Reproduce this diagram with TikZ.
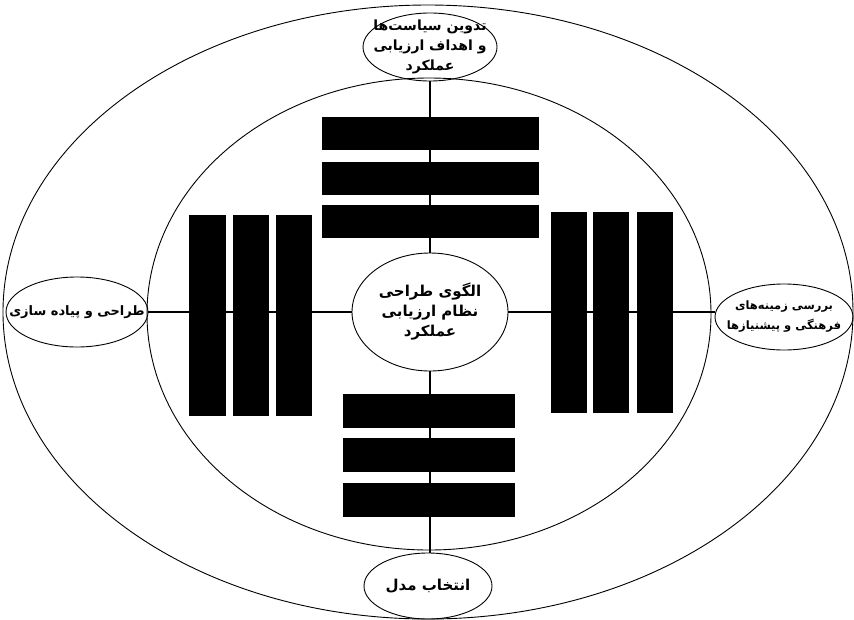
\documentclass[tikz,border=0pt]{standalone}
\usepackage{fontspec}
\usetikzlibrary{shapes.geometric}
\TeXXeTstate=1
\newfontfamily\arabicfont[Script=Arabic]{DejaVu Sans}
\newcommand{\fa}[1]{\beginR #1\endR}

\begin{document}
\begin{tikzpicture}[x=1pt,y=-1pt,
  ring/.style={ellipse,draw,line width=.9pt,inner sep=0pt},
  bar/.style={fill=black,draw=black,inner sep=0pt},
  fatext/.style={font=\arabicfont\bfseries\fontsize{#1}{20}\selectfont,align=center,inner sep=0pt},
  fatext/.default=13,
  link/.style={line width=1.2pt}]
\useasboundingbox (0,0) rectangle (854,619);
\draw[line width=.9pt] (428,312) ellipse [x radius=425,y radius=307];
\draw[line width=.9pt] (429,314) ellipse [x radius=282,y radius=236];

\node[ring,minimum width=156pt,minimum height=118pt] (core) at (430,312) {};
\node[ring,minimum width=134pt,minimum height=68pt] (policy) at (430,47) {};
\node[ring,minimum width=128pt,minimum height=66pt] (model) at (428,586) {};
\node[ring,minimum width=142pt,minimum height=70pt] (design) at (77,312) {};
\node[ring,minimum width=138pt,minimum height=66pt] (context) at (784,317) {};

\draw[link] (policy.south) -- (core.north);
\draw[link] (core.south) -- (core.south |- model.north);
\draw[link] (design.east) -- (core.west);
\draw[link] (core.east) -- (core.east -| context.west);

\node[bar,minimum width=216pt,minimum height=32pt] (tb1) at (430,133) {};
\node[bar,minimum width=216pt,minimum height=32pt] (tb2) at (430,178.5) {};
\node[bar,minimum width=216pt,minimum height=32pt] (tb3) at (430,221.5) {};
\node[bar,minimum width=171pt,minimum height=33pt] (bb1) at (428.5,410.5) {};
\node[bar,minimum width=171pt,minimum height=33pt] (bb2) at (428.5,454.5) {};
\node[bar,minimum width=171pt,minimum height=33pt] (bb3) at (428.5,499.5) {};
\node[bar,minimum width=36pt,minimum height=200pt] (lb1) at (207,315) {};
\node[bar,minimum width=35pt,minimum height=200pt] (lb2) at (250.5,315) {};
\node[bar,minimum width=35pt,minimum height=200pt] (lb3) at (293.5,315) {};
\node[bar,minimum width=35pt,minimum height=200pt] (rb1) at (568.5,312) {};
\node[bar,minimum width=35pt,minimum height=200pt] (rb2) at (611,312) {};
\node[bar,minimum width=35pt,minimum height=200pt] (rb3) at (654.5,312) {};

\node[fatext=15] (coreT) at (core) {\fa{الگوی طراحی}\\\fa{نظام ارزیابی}\\\fa{عملکرد}};
\node[fatext=14] (policyT) at (policy) {\fa{تدوین سیاست‌ها}\\\fa{و اهداف ارزیابی}\\\fa{عملکرد}};
\node[fatext=15] (modelT) at (model) {\fa{انتخاب مدل}};
\node[fatext=13] (designT) at (design) {\fa{طراحی و پیاده سازی}};
\node[fatext=11.5] (contextT) at (context) {\fa{بررسی زمینه‌های}\\\fa{فرهنگی و پیشنیازها}};
\end{tikzpicture}
\end{document}
